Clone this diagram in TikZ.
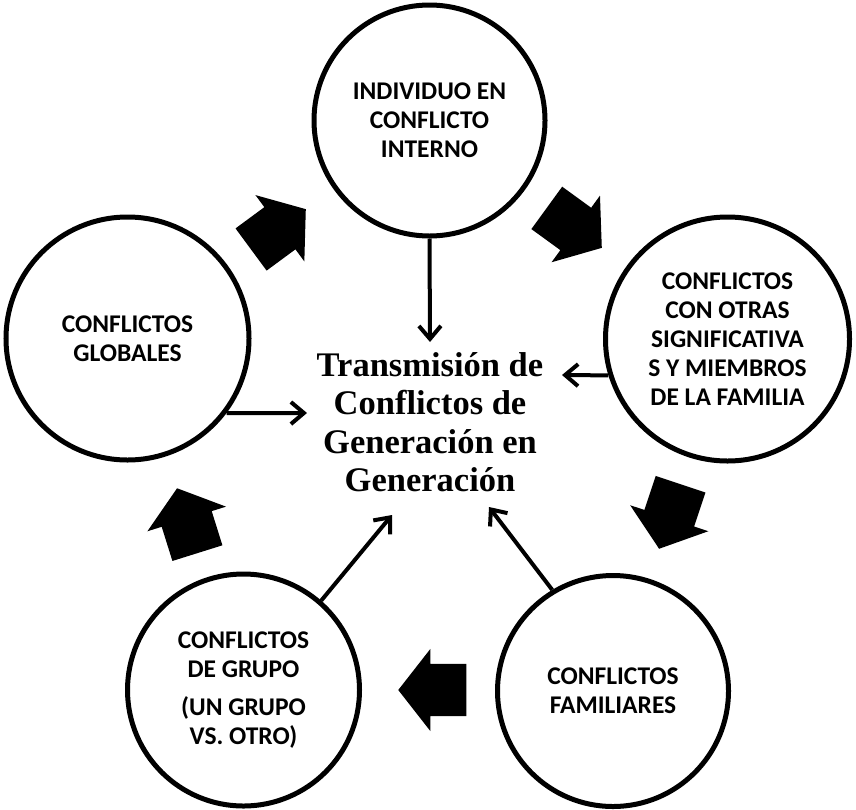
\documentclass[tikz,border=0pt]{standalone}
\usepackage{fontspec}
\usetikzlibrary{shapes.arrows,arrows.meta}
\newfontfamily\circfont{Carlito}[UprightFont={Carlito Bold},BoldFont={Carlito Bold}]
\newfontfamily\serfont{Liberation Serif}

\begin{document}
\begin{tikzpicture}[x=1pt,y=-1pt]

        \useasboundingbox (0,0) rectangle (856,809);

        \begin{scope}[every node/.style={circle,draw,line width=5pt,align=center,inner sep=0pt,
            font=\circfont\bfseries\fontsize{25.5}{29}\selectfont}]
          \node[minimum size=231pt] (top) at (429.5,120.5) {INDIVIDUO EN\\CONFLICTO\\INTERNO};
          \node[minimum size=244pt] (rgt) at (727.5,339)   {CONFLICTOS\\CON OTRAS\\SIGNIFICATIVA\\S Y MIEMBROS\\DE LA FAMILIA};
          \node[minimum size=231pt] (br)  at (613,691)     {CONFLICTOS\\FAMILIARES};
          \node[minimum size=232pt] (bl)  at (243.5,690)   {CONFLICTOS\\DE GRUPO\\[9pt](UN GRUPO\\VS. OTRO)};
          \node[minimum size=243pt] (lft) at (127.5,338.5) {CONFLICTOS\\GLOBALES};
        \end{scope}

        \node[align=center,font=\serfont\bfseries\fontsize{34.5}{38.5}\selectfont] (ctr) at (430,422)
          {Transmisión de\\Conflictos de\\Generación en\\Generación};

        \begin{scope}[every node/.style={single arrow,fill=black,inner xsep=0pt,inner ysep=26pt,anchor=tip,
            minimum height=68pt,single arrow head extend=15pt,single arrow tip angle=104}]
          \node[rotate=36.4]  (b1) at (306,209) {};
          \node[rotate=-36]   (b2) at (602,248) {};
          \node[rotate=251.6] (b3) at (659,549) {};
          \node[rotate=180]   (b4) at (398,690) {};
          \node[rotate=107.4] (b5) at (177,488) {};
        \end{scope}

        \coordinate (tT)  at (430,342);
        \coordinate (tR)  at (562,375);
        \coordinate (tL)  at (307,413);
        \coordinate (tBL) at (392,515);
        \coordinate (tBR) at (489,507);

        \begin{scope}[every edge/.style={draw,line width=4pt,-{Straight Barb[length=13pt,width=22pt]}}]
          \path (top.south) edge (tT);
          \path (rgt.197)   edge (tR);
          \path (br.121)    edge (tBR);
          \path (bl.49)     edge (tBL);
          \path (lft.-37)   edge (tL);
        \end{scope}

      \end{tikzpicture}
\end{document}
